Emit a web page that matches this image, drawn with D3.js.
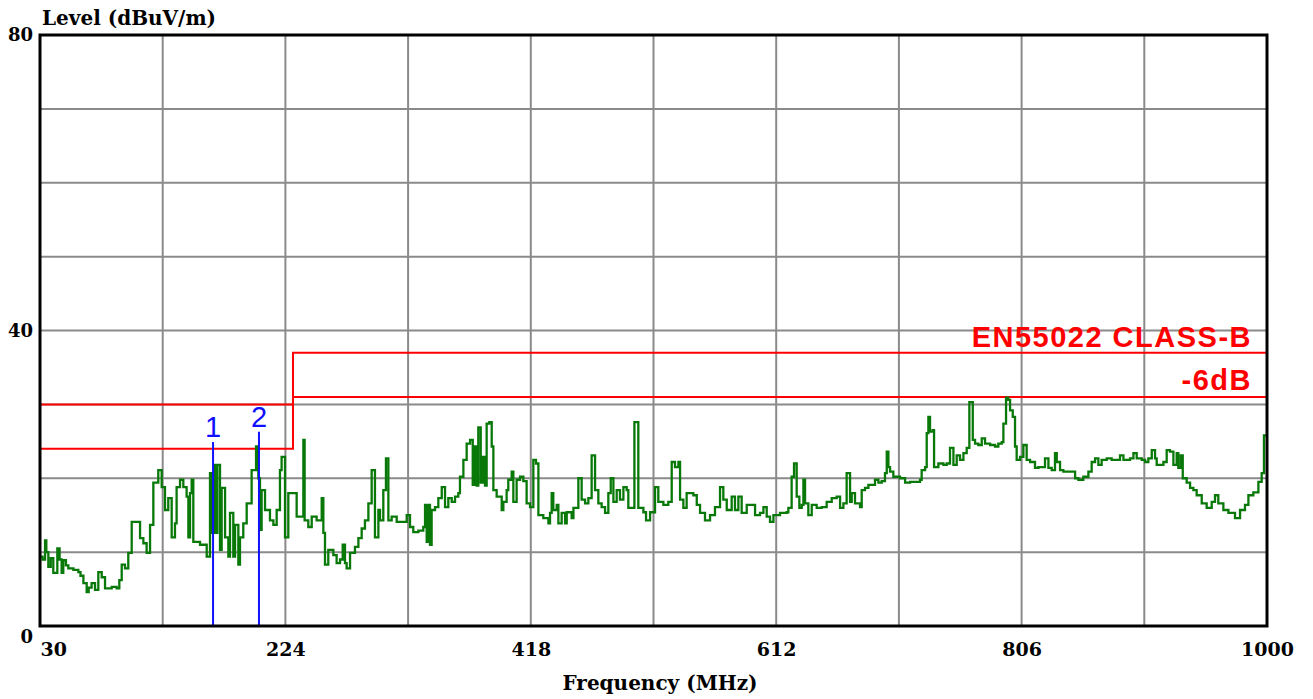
<!DOCTYPE html>
<html><head><meta charset="utf-8">
<script src="https://cdn.jsdelivr.net/npm/d3@7"></script>
<style>body{margin:0;background:#fff;} svg{display:block}</style>
</head><body><svg id="chart" width="1313" height="699"></svg>
<script>
const xTickLabels = [30, 224, 418, 612, 806, 1000];
const xGridValues = [127, 224, 321, 418, 515, 612, 709, 806, 903];
const yTickLabels = [0, 40, 80];
const yGridValues = [10, 20, 30, 40, 50, 60, 70];
const limitFreq = [30, 230, 230, 1000];
const limitClassB = [30, 30, 37, 37];
const limitMinus6 = [24, 24, 31, 31];
const limitLabels = ["EN55022 CLASS-B", "-6dB"];
const markerFreq = [166.8, 203.1];
const markerLevel = [24.9, 26.3];
const markerName = ["1", "2"];
const trace = [
[30.0,9.4],[32.0,9.0],[34.0,11.6],[35.0,10.0],[36.6,8.0],[38.5,9.2],[40.5,7.2],[43.7,10.5],[45.5,9.0],[47.1,7.2],[48.4,8.9],[50.5,8.2],[52.4,7.8],[56.4,7.6],[60.3,7.3],[62.0,6.8],[64.3,5.8],[66.9,4.6],[68.5,5.2],[70.8,5.8],[73.5,4.9],[76.1,7.3],[78.8,6.6],[81.4,5.1],[86.7,5.3],[90.6,5.1],[92.7,6.2],[94.6,8.3],[97.2,7.8],[99.8,9.9],[102.5,14.1],[107.7,14.1],[109.1,11.9],[111.7,11.2],[114.3,9.9],[117.0,13.7],[119.6,19.4],[123.5,21.1],[126.2,18.8],[128.8,15.7],[131.4,17.3],[134.1,12.0],[136.7,13.9],[138.0,18.8],[140.7,19.8],[143.3,18.8],[145.9,17.5],[147.3,12.0],[148.6,18.0],[149.9,19.8],[151.2,11.4],[156.5,11.0],[160.4,11.0],[161.8,9.4],[164.4,20.7],[165.7,12.6],[167.6,21.8],[169.1,12.6],[170.2,21.8],[172.3,10.3],[173.6,18.7],[176.3,12.0],[178.9,9.4],[180.2,15.3],[182.8,9.4],[184.2,13.7],[186.8,8.3],[188.1,12.0],[190.7,13.9],[193.4,16.6],[197.3,21.1],[200.8,24.3],[202.6,20.0],[203.9,13.0],[205.2,18.4],[207.9,15.7],[211.8,14.3],[214.5,13.7],[217.1,15.7],[219.7,21.1],[221.0,22.9],[223.7,12.0],[226.3,18.0],[230.3,18.0],[232.9,14.8],
[235.6,14.8],[238.2,25.2],[239.2,14.3],[242.1,13.4],[244.8,14.8],[248.7,14.3],[252.7,17.3],[254.0,12.6],[255.3,8.3],[257.9,10.3],[261.9,9.6],[264.5,8.5],[267.2,9.0],[269.3,11.0],[271.1,8.5],[272.4,7.8],[275.1,9.9],[279.0,10.7],[281.7,11.9],[284.3,13.2],[286.9,14.3],[289.6,16.6],[292.2,21.1],[294.8,12.0],[297.5,15.7],[298.8,14.3],[301.4,18.4],[303.5,22.7],[305.4,14.3],[308.0,14.8],[312.0,14.1],[317.2,14.1],[319.9,15.0],[322.5,13.4],[325.1,12.7],[329.1,12.9],[333.0,13.4],[334.4,16.4],[335.7,11.4],[337.0,16.4],[338.3,11.0],[339.6,15.7],[342.3,16.1],[344.9,17.3],[347.6,18.8],[350.2,16.1],[352.8,17.3],[355.5,16.8],[358.1,17.5],[360.7,18.0],[362.0,20.2],[364.7,22.5],[367.3,24.7],[370.0,25.2],[372.1,19.1],[373.9,24.3],[375.2,19.0],[376.5,26.9],[378.4,19.4],[380.0,22.9],[381.8,19.0],[383.1,27.4],[385.2,27.6],[387.1,24.3],[388.4,18.4],[391.0,17.5],[395.0,15.7],[396.3,16.8],[398.9,18.4],[400.2,19.8],[402.9,20.9],[404.2,16.8],[406.8,19.8],[409.5,20.2],[412.1,19.6],[414.7,16.6],[417.4,16.1],[420.0,22.5],[422.1,22.0],[424.0,15.0],[427.9,14.6],[431.9,13.9],
[433.2,15.3],[434.5,18.0],[435.8,15.7],[438.5,16.4],[439.8,13.9],[442.4,15.3],[445.1,13.9],[446.4,15.4],[450.3,14.6],[451.7,16.0],[454.3,16.0],[455.6,20.0],[458.2,17.1],[460.9,16.6],[463.5,17.3],[466.1,23.1],[468.8,18.4],[471.4,16.6],[474.0,16.1],[476.7,15.3],[479.3,18.0],[481.2,20.0],[483.3,16.8],[485.9,18.4],[488.5,17.1],[491.2,18.8],[493.8,18.4],[495.1,16.0],[499.1,16.0],[499.9,27.6],[501.7,27.6],[503.0,16.0],[507.0,15.4],[509.1,14.3],[512.3,15.4],[516.2,18.8],[518.8,16.8],[522.8,16.4],[526.7,16.8],[529.4,22.2],[532.0,21.5],[534.7,22.2],[536.0,17.1],[538.6,16.0],[541.2,18.0],[546.5,17.7],[549.2,16.4],[551.8,15.3],[555.7,14.3],[559.7,15.0],[563.6,16.1],[567.6,18.8],[570.2,17.1],[572.9,15.7],[576.8,17.5],[579.4,15.7],[582.1,17.5],[584.7,15.3],[588.7,16.4],[592.6,16.4],[595.3,15.0],[599.2,15.3],[601.9,16.1],[604.5,14.8],[607.1,14.1],[609.8,15.0],[615.0,15.3],[620.3,15.4],[621.6,16.0],[624.2,20.2],[626.1,22.0],[628.2,17.5],[630.3,16.0],
[632.2,16.4],[633.5,19.8],[634.8,16.6],[637.4,15.0],[640.1,16.4],[644.0,16.0],[648.0,16.1],[651.9,16.8],[655.9,17.3],[659.8,17.5],[662.5,16.0],[665.1,16.6],[667.7,20.7],[670.4,16.8],[671.7,18.0],[674.3,16.6],[678.3,16.1],[679.6,18.4],[682.2,18.7],[684.9,19.1],[687.5,19.1],[690.1,19.8],[692.8,19.4],[695.4,19.6],[698.0,20.7],[699.4,23.6],[700.7,21.5],[702.0,20.9],[704.6,20.2],[709.9,20.0],[713.9,19.4],[717.8,19.5],[723.1,19.5],[725.7,19.8],[727.0,21.1],[729.7,21.5],[731.0,26.1],[732.3,28.3],[733.6,26.3],[735.7,26.5],[736.8,21.5],[740.2,22.0],[744.2,21.8],[746.8,22.0],[749.4,24.1],[752.1,21.8],[754.7,23.1],[757.3,22.5],[760.0,23.4],[762.6,24.1],[764.7,30.3],[766.6,30.3],[767.4,25.2],[769.2,24.7],[771.8,24.5],[774.5,25.4],[777.1,24.7],[781.1,24.5],[785.0,24.3],[787.6,24.7],[790.3,24.9],[791.6,27.4],[793.7,30.9],[795.5,30.6],[796.9,29.2],[799.0,28.3],[800.8,24.3],[802.1,22.5],[804.8,22.9],[807.4,24.5],[810.0,22.5],[812.7,22.2],[816.6,21.4],[819.3,21.5],[824.5,22.7],[827.2,21.4],[829.8,21.1],[832.4,23.4],[833.8,22.2],[836.4,21.1],[839.0,20.9],[844.3,20.9],[848.3,20.0],[850.9,19.8],[854.8,20.2],[858.8,20.9],[861.4,22.2],[864.1,22.7],[866.7,21.8],[869.3,22.5],[873.3,22.7],[877.2,22.5],[881.2,22.5],[883.8,23.1],[886.5,22.5],[891.7,22.7],[894.4,23.4],[897.0,22.7],[901.0,22.5],[903.6,22.2],[906.2,22.7],[908.9,23.8],[911.5,22.7],[912.8,21.8],[915.4,21.8],[918.1,22.2],[920.7,23.8],[923.3,23.6],[926.0,21.8],[928.6,23.4],[929.9,21.4],[931.8,23.1],[933.4,20.0],[936.5,19.4],[939.2,18.7],[941.8,18.4],[944.4,17.7],[948.4,16.6],[952.3,16.0],[956.3,16.8],[958.9,17.7],[961.5,16.6],[965.5,15.7],[969.5,15.3],[974.7,14.6],[978.7,15.7],[982.6,16.4],[985.3,17.7],[989.2,18.1],[993.2,19.5],[995.8,20.7],[997.6,25.8],[1000.0,25.8]
];

const svg = d3.select("#chart");
const M = {l: 40, r: 1267, t: 35, b: 626};
const x = d3.scaleLinear().domain([30, 1000]).range([M.l, M.r]);
const y = d3.scaleLinear().domain([0, 80]).range([M.b, M.t]);
const serif = "'DejaVu Serif', serif";

// grid
const grid = svg.append("g");
grid.selectAll("line.v").data(xGridValues).join("line").attr("class","v")
  .attr("x1", d => x(d)).attr("x2", d => x(d)).attr("y1", M.t).attr("y2", M.b)
  .attr("stroke", "#8a8a8a").attr("stroke-width", 2);
grid.selectAll("line.h").data(yGridValues).join("line").attr("class","h")
  .attr("y1", d => y(d)).attr("y2", d => y(d)).attr("x1", M.l).attr("x2", M.r)
  .attr("stroke", "#8a8a8a").attr("stroke-width", 2);

// limit lines
const lim = d3.line().x(d => x(d[0])).y(d => y(d[1]));
[limitClassB, limitMinus6].forEach(arr => {
  svg.append("path").datum(limitFreq.map((f, i) => [f, arr[i]]))
    .attr("d", lim).attr("fill", "none").attr("stroke", "#ff0000").attr("stroke-width", 2);
});
svg.append("text").attr("x", x(1000) - 15).attr("y", y(limitClassB[3]) - 6)
  .attr("text-anchor", "end").attr("fill", "#ff0000")
  .style("font-family", "'Liberation Sans', Arial, sans-serif").style("font-weight", "bold")
  .style("font-size", "29px").style("letter-spacing", "1.5px").text(limitLabels[0]);
svg.append("text").attr("x", x(1000) - 15).attr("y", y(limitMinus6[3]) - 7)
  .attr("text-anchor", "end").attr("fill", "#ff0000")
  .style("font-family", "'Liberation Sans', Arial, sans-serif").style("font-weight", "bold")
  .style("font-size", "29px").style("letter-spacing", "1.5px").text(limitLabels[1]);

// trace
svg.append("path").datum(trace)
  .attr("d", d3.line().curve(d3.curveStepAfter).x(d => x(d[0])).y(d => y(d[1])))
  .attr("fill", "none").attr("stroke", "#087808").attr("stroke-width", 2.3);

// markers
const mk = svg.append("g");
markerFreq.forEach((f, i) => {
  mk.append("line").attr("x1", x(f)).attr("x2", x(f)).attr("y1", y(0)).attr("y2", y(markerLevel[i]))
    .attr("stroke", "#1010ff").attr("stroke-width", 2);
  mk.append("text").attr("x", x(f)).attr("y", y(markerLevel[i]) - 5).attr("text-anchor", "middle")
    .attr("fill", "#1010ff").style("font-family", "'Liberation Sans', Arial, sans-serif")
    .style("font-size", "29px").text(markerName[i]);
});

// border
svg.append("rect").attr("x", M.l).attr("y", M.t).attr("width", M.r - M.l).attr("height", M.b - M.t)
  .attr("fill", "none").attr("stroke", "#000").attr("stroke-width", 3);

// axes
const yAxis = svg.append("g").attr("transform", `translate(${M.l},0)`)
  .call(d3.axisLeft(y).tickValues(yTickLabels).tickSize(0).tickPadding(7));
yAxis.select(".domain").remove();
yAxis.selectAll("text").style("font-family", serif).style("font-weight", "bold").style("font-size", "18px")
  .attr("fill", "#000").attr("dy", d => d === 0 ? "0.9em" : "0.32em");

const xAxis = svg.append("g").attr("transform", `translate(0,${M.b})`)
  .call(d3.axisBottom(x).tickValues(xTickLabels).tickFormat(d3.format("d")).tickSize(0).tickPadding(17));
xAxis.select(".domain").remove();
xAxis.selectAll("text").style("font-family", serif).style("font-weight", "bold").style("font-size", "19px")
  .attr("fill", "#000").attr("text-anchor", (d, i) => i === 0 ? "start" : "middle");

svg.append("text").attr("x", 42).attr("y", 25).style("font-family", serif).style("font-weight", "bold")
  .style("font-size", "20px").text("Level (dBuV/m)");
svg.append("text").attr("x", 660).attr("y", 690).attr("text-anchor", "middle").style("font-family", serif)
  .style("font-weight", "bold").style("font-size", "20px").text("Frequency (MHz)");
</script></body></html>
